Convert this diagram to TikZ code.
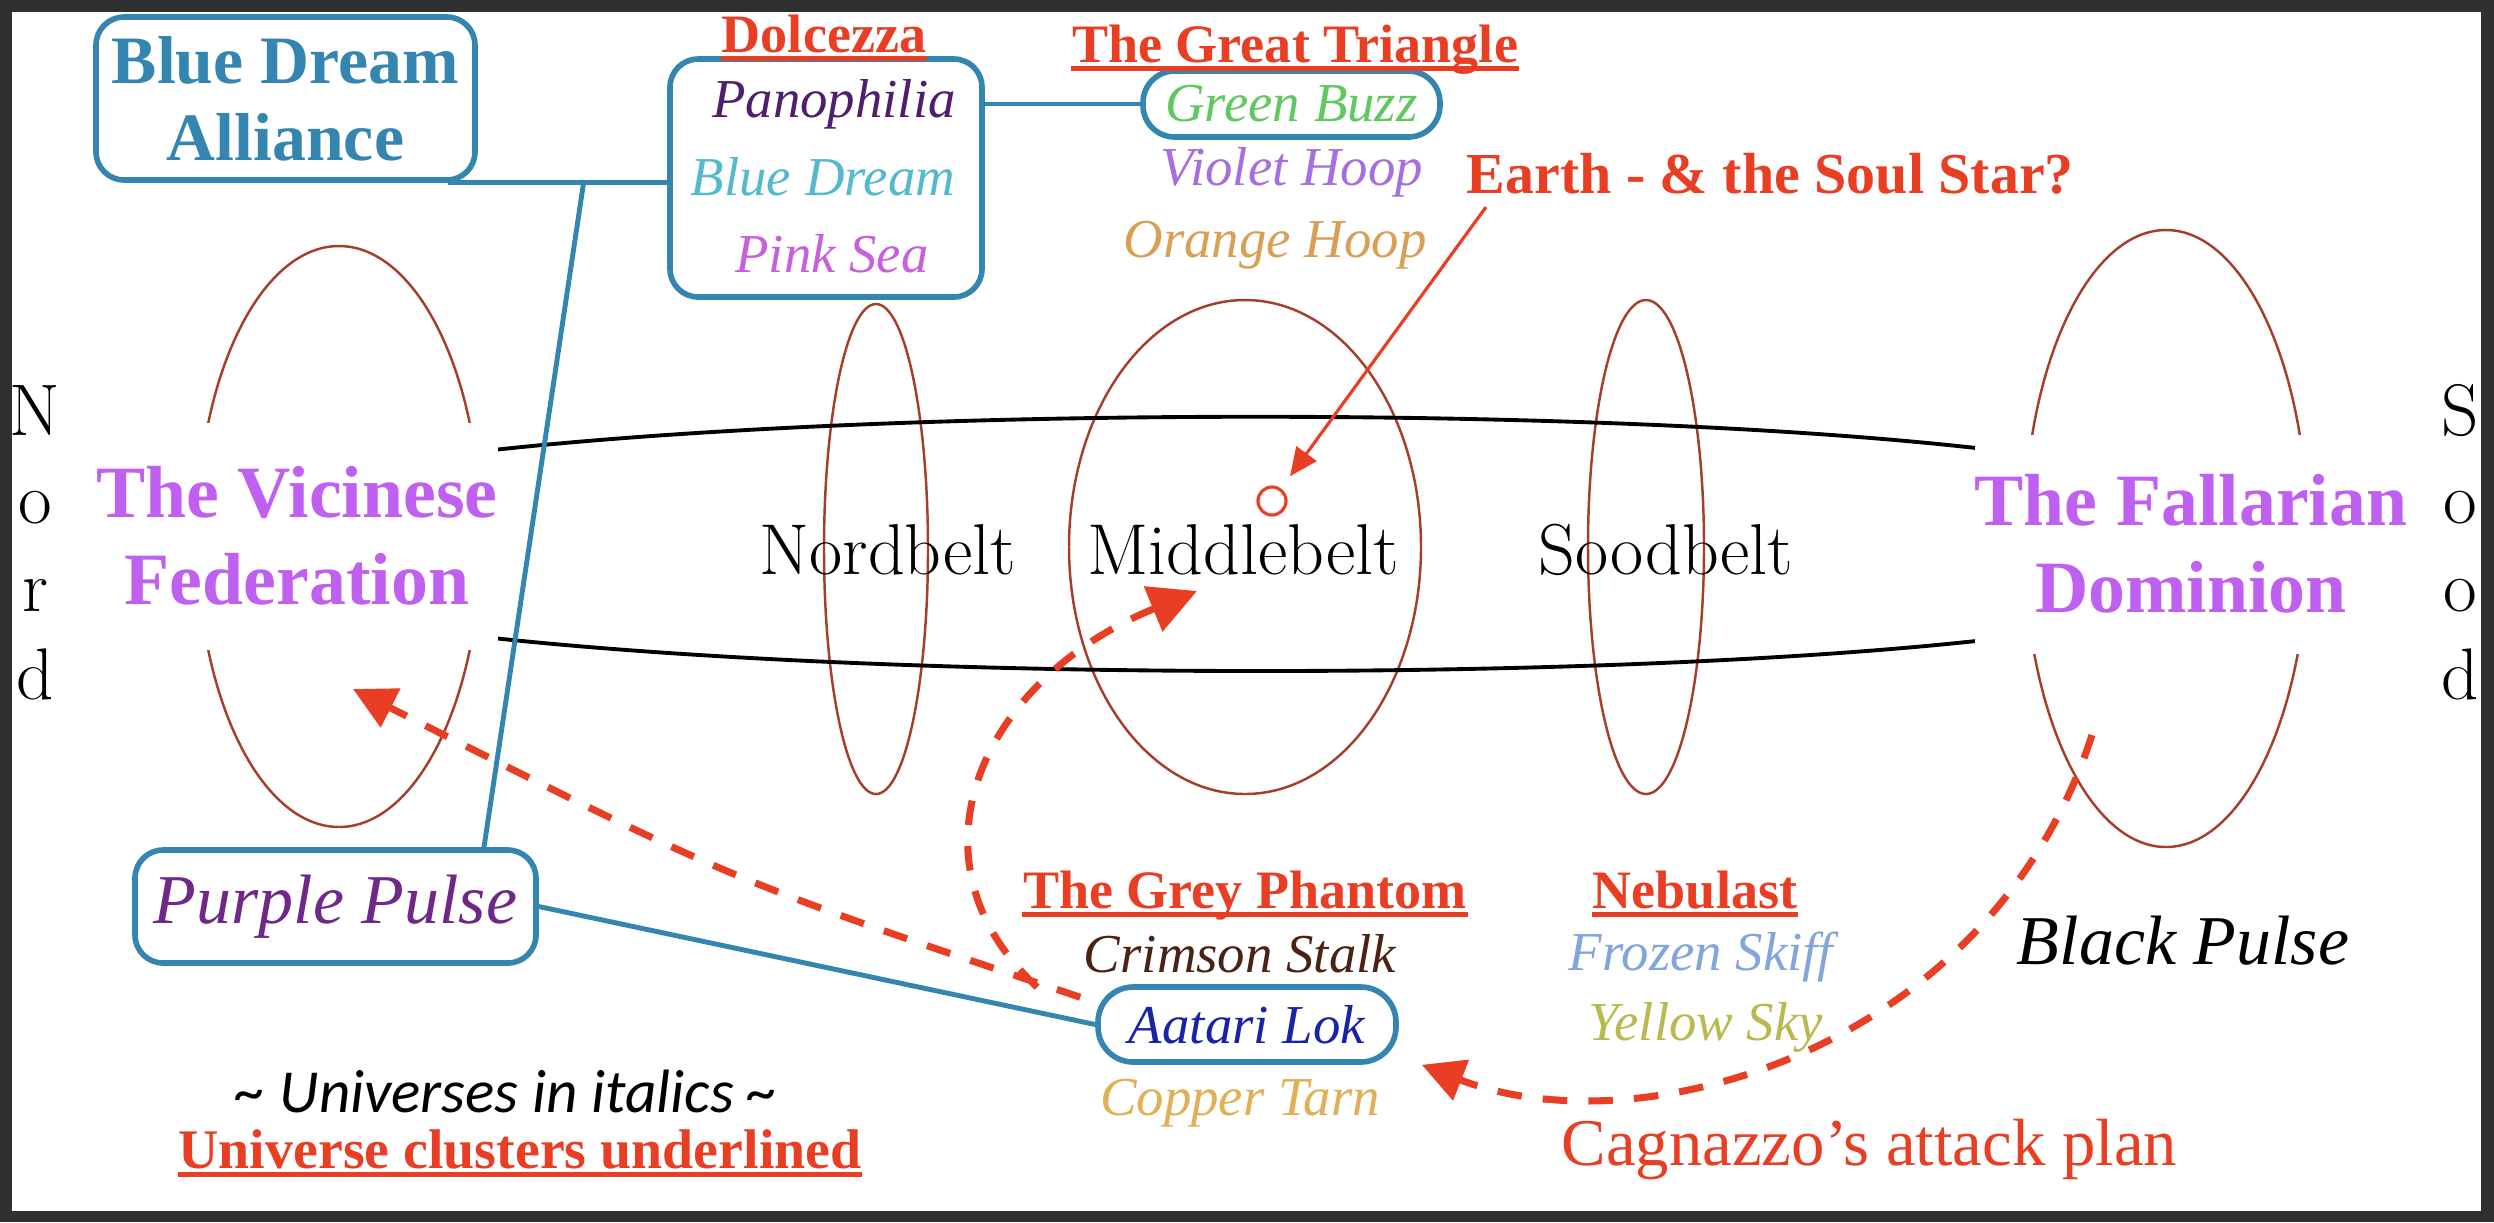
\documentclass[tikz,border=0pt]{standalone}
\usepackage{fontspec}
\newfontfamily\timesf{Liberation Serif}
\newfontfamily\calf{Carlito}
\usetikzlibrary{arrows.meta}

\definecolor{framegray}{RGB}{47,49,48}
\definecolor{boxblue}{RGB}{52,134,176}
\definecolor{plotred}{RGB}{232,62,36}
\definecolor{ringred}{RGB}{165,62,42}
\definecolor{realmviolet}{RGB}{192,96,240}
\definecolor{panocol}{RGB}{80,30,110}
\definecolor{bdcol}{RGB}{85,185,205}
\definecolor{pinkcol}{RGB}{200,95,220}
\definecolor{buzzgreen}{RGB}{95,200,95}
\definecolor{violetcol}{RGB}{165,110,225}
\definecolor{orangecol}{RGB}{215,160,85}
\definecolor{purplepulse}{RGB}{110,40,135}
\definecolor{crimsoncol}{RGB}{75,35,20}
\definecolor{aataricol}{RGB}{25,35,165}
\definecolor{coppercol}{RGB}{225,175,85}
\definecolor{frozencol}{RGB}{130,165,220}
\definecolor{yellowcol}{RGB}{185,185,80}

\tikzset{
  clusterbox/.style={draw=boxblue, line width=1.6pt, rounded corners=8pt, inner sep=0pt},
  pillbox/.style={clusterbox, rounded corners=9pt},
  link/.style={draw=boxblue, line width=1.4pt},
  heading/.style={text=plotred, inner sep=0pt, anchor=base,
    font=\timesf\bfseries\fontsize{15.4pt}{18pt}\selectfont},
  underl/.style={draw=plotred, line width=1.3pt},
  verse/.style={inner sep=0pt, anchor=base,
    font=\timesf\itshape\fontsize{15.6pt}{18pt}\selectfont},
  bigverse/.style={verse, font=\timesf\itshape\fontsize{19.9pt}{22pt}\selectfont},
  belt/.style={anchor=base, inner sep=0pt, font=\fontsize{20.5pt}{24pt}\selectfont},
  pole/.style={anchor=base, inner sep=0pt, font=\fontsize{20.8pt}{24pt}\selectfont},
  realm/.style={fill=white, text=realmviolet, align=center, inner sep=0pt,
    font=\timesf\bfseries\fontsize{21pt}{24.8pt}\selectfont},
  ellring/.style={draw=ringred, line width=0.7pt},
  beltline/.style={line width=1.1pt},
  attack/.style={draw=plotred, line width=2pt, dash pattern=on 7pt off 6pt,
    -{Triangle[length=12pt,width=12pt]}},
}

\begin{document}
\begin{tikzpicture}[x=0.1mm,y=-0.1mm]

\useasboundingbox (0,0) rectangle (2494,1222);

% Frame
\fill[framegray]
(0,0) rectangle (2494,1222);
\fill[white]
(12,12) rectangle (2481,1211);

% Rings
\draw[ellring]
(339,536.5) ellipse [x radius=14.2mm, y radius=29.05mm];
\draw[ellring]
(876,549) ellipse [x radius=5.2mm, y radius=24.5mm];
\draw[ellring]
(1245,547) ellipse [x radius=17.6mm, y radius=24.7mm];
\draw[ellring]
(1646,547) ellipse [x radius=5.8mm, y radius=24.7mm];
\draw[ellring]
(2166,538.5) ellipse [x radius=14.2mm, y radius=30.85mm];

% Belt edges
\draw[beltline]
(493,450)
.. controls (900,406) and (1600,406) ..
(1976,448);
\draw[beltline]
(493,638)
.. controls (900,681.5) and (1600,681.5) ..
(1976,641);

% Realms
\node[realm, minimum width=39.2mm, minimum height=22.7mm]
(vicinese) at (297,536)
{The Vicinese\\Federation};
\node[realm, minimum width=43mm, minimum height=21.9mm]
(fallarian) at (2191,544)
{The Fallarian\\Dominion};

% Belts
\node[belt] (nordbelt) at (888,574) {Nordbelt};
\node[belt] (middlebelt) at (1243,574) {Middlebelt};
\node[belt] (soodbelt) at (1666,574) {Soodbelt};

\foreach \letter [count=\i] in {N,o,r,d}
  \node[pole] (nord\i) at (35,{347+88*\i}) {\letter};
\foreach \letter [count=\i] in {S,o,o,d}
  \node[pole] (sood\i) at (2460,{347+88*\i}) {\letter};

% Blue Dream Alliance
\node[clusterbox, minimum width=37.9mm, minimum height=16.3mm,
  align=center, text=boxblue,
  font=\timesf\bfseries\fontsize{19.3pt}{21.9pt}\selectfont]
(bda) at (285.5,98.5)
{Blue Dream\\Alliance};

% Dolcezza
\node[heading] (dolc-t) at (824,52) {Dolcezza};
\node[clusterbox, minimum width=31.2mm, minimum height=23.8mm]
(dolc) at (826,178) {};
\node[verse, text=panocol] (pano) at (834,117) {Panophilia};
\node[verse, text=bdcol] (bdream) at (823,195) {Blue Dream};
\node[verse, text=pinkcol] (pink) at (832,272) {Pink Sea};

% The Great Triangle
\node[heading] (tri-t) at (1295,62) {The Great Triangle};
\node[pillbox, verse, anchor=center, minimum width=29.7mm,
  minimum height=6.6mm, text=buzzgreen]
(gbuzz) at (1291.5,104)
{Green Buzz};
\node[verse, text=violetcol] (vhoop) at (1292,185) {Violet Hoop};
\node[verse, text=orangecol] (ohoop) at (1275,257) {Orange Hoop};

% Earth
\node[heading, anchor=base west,
  font=\timesf\bfseries\fontsize{16.5pt}{20pt}\selectfont]
(earth) at (1466,193)
{Earth - \& the Soul Star?};
\node[circle, draw=plotred, line width=0.9pt, minimum size=2.8mm, inner sep=0pt]
(soul) at (1272,501) {};

% Purple Pulse
\node[clusterbox, bigverse, anchor=center, minimum width=40.1mm,
  minimum height=11.3mm, text=purplepulse]
(ppulse) at (335.5,906.5)
{Purple Pulse};

% The Grey Phantom
\node[heading] (grey-t) at (1245,908) {The Grey Phantom};
\node[verse, text=crimsoncol] (crimson) at (1240,972) {Crimson Stalk};
\node[pillbox, verse, anchor=center, minimum width=29.8mm,
  minimum height=7.5mm, rounded corners=10pt, text=aataricol]
(aatari) at (1247,1024.5)
{Aatari Lok};
\node[verse, text=coppercol] (copper) at (1240,1115) {Copper Tarn};

% Nebulast
\node[heading] (neb-t) at (1695,908) {Nebulast};
\node[verse, text=frozencol] (frozen) at (1701,970) {Frozen Skiff};
\node[verse, text=yellowcol] (ysky) at (1706,1040) {Yellow Sky};

\node[bigverse] (bpulse) at (2183,964) {Black Pulse};

% Legend
\node[anchor=base, inner sep=0pt,
  font=\calf\itshape\fontsize{17.4pt}{20pt}\selectfont]
(legend-i) at (507,1112)
{\textasciitilde{} Universes in italics \textasciitilde};
\node[heading, font=\timesf\bfseries\fontsize{15.9pt}{19pt}\selectfont]
(legend-u) at (520,1168)
{Universe clusters underlined};

\node[anchor=base west, inner sep=0pt, text=plotred,
  font=\timesf\fontsize{19pt}{22pt}\selectfont]
(cagn) at (1561,1165)
{Cagnazzo’s attack plan};

% Underlines
\foreach \h in {dolc-t,tri-t,grey-t,neb-t,legend-u}
  \draw[underl]
  ([yshift=-1.9pt]\h.base west)
  --
  ([yshift=-1.9pt]\h.base east);

% Alliance links
\coordinate (fork) at (584,180);
\draw[link]
([xshift=-3mm]bda.south east)
--
(dolc.west |- bda.south east);
\draw[link]
(fork)
--
([xshift=14.85mm]ppulse.north);
\draw[link]
(ppulse.east)
--
(aatari.west);
\draw[link]
(gbuzz.west -| dolc.east)
--
(gbuzz.west);

% Earth pointer
\draw[plotred, line width=0.9pt, -{Triangle[length=8pt,width=7pt]}, shorten >=1.5mm]
([xshift=2mm,yshift=-1.4mm]earth.base west)
--
(soul);

% Attack plan
\coordinate (vic-tip) at (353,689);
\coordinate (mid-tip) at (1197,591);
\coordinate (fal-start) at (2092,735);

\draw[attack]
([shift={(-1.5mm,-1.3mm)}]aatari.north west)
.. controls (733,881) ..
(vic-tip);
\draw[attack, -{Triangle[length=13.5pt,width=13.5pt]}]
([shift={(-5.8mm,-0.3mm)}]aatari.north west)
.. controls (900,860) and (980,680) ..
(mid-tip);
\draw[attack]
(fal-start)
.. controls (1990,1050) and (1640,1150) ..
([xshift=2.3mm]aatari.south east);

\end{tikzpicture}
\end{document}
